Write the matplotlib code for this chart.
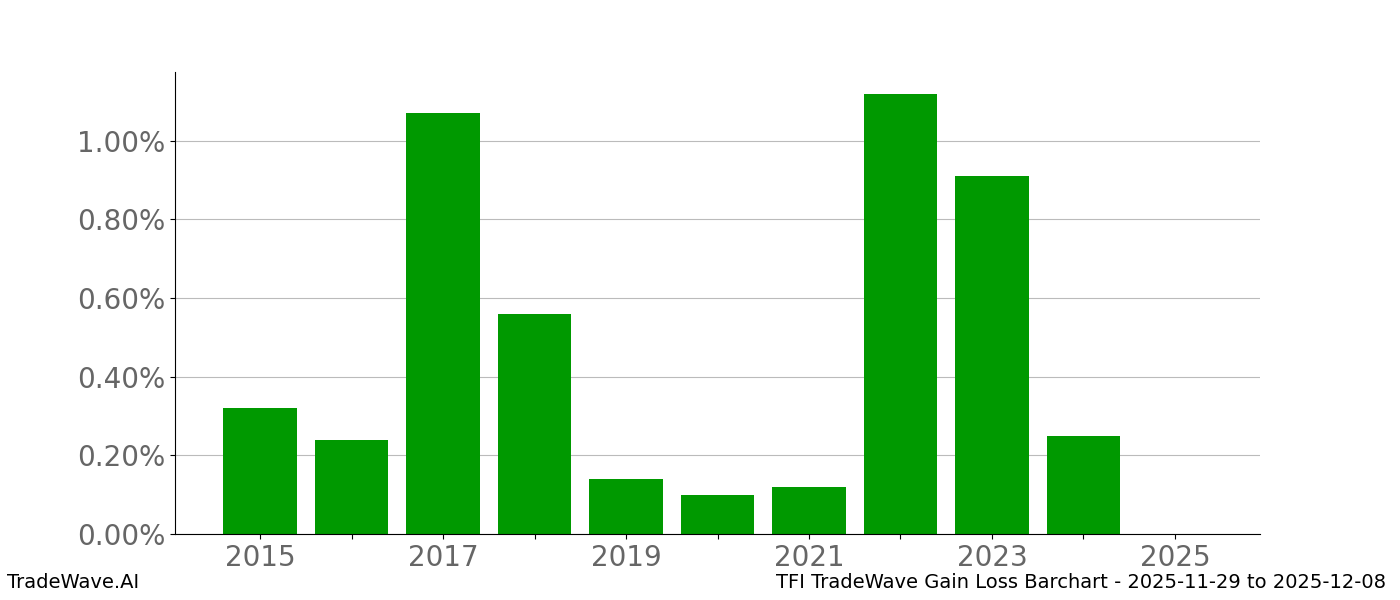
import matplotlib
matplotlib.use('Agg')
import matplotlib.pyplot as plt
from matplotlib.ticker import FuncFormatter

years = [2015, 2016, 2017, 2018, 2019, 2020, 2021, 2022, 2023, 2024, 2025]
gains = [0.32, 0.24, 1.07, 0.56, 0.14, 0.10, 0.12, 1.12, 0.91, 0.25, 0.0]

fig = plt.figure(figsize=(14, 6), dpi=100)
ax = fig.add_axes([0.125, 0.11, 0.775, 0.77])

ax.bar(years, gains, width=0.8, color='#009900', zorder=2)
ax.set_xlim(2014.07, 2025.93)
ax.set_ylim(0, 1.175)
ax.set_yticks([0, 0.2, 0.4, 0.6, 0.8, 1.0])
ax.yaxis.set_major_formatter(FuncFormatter(lambda v, p: f'{v:.2f}%'))
ax.set_xticks(years)
ax.set_xticklabels([str(y) if y % 2 == 1 else '' for y in years])
ax.tick_params(labelsize=20, labelcolor='#666666')
ax.grid(axis='y', color='#bbbbbb', linewidth=0.8, zorder=0)
ax.spines['top'].set_visible(False)
ax.spines['right'].set_visible(False)

fig.text(0.005, 0.02, 'TradeWave.AI', fontsize=14)
fig.text(0.99, 0.02, 'TFI TradeWave Gain Loss Barchart - 2025-11-29 to 2025-12-08',
         fontsize=14, ha='right')

fig.savefig('out.png')
